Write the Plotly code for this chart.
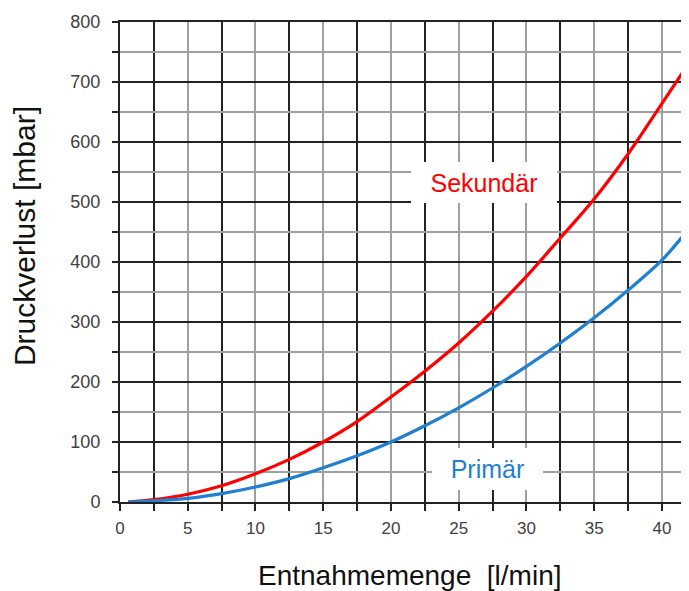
import plotly.graph_objects as go

# Data
flow = [0.6, 2.5, 5, 7.5, 10, 12.5, 15, 17.5, 20, 22.5, 25, 27.5, 30, 32.5, 35, 37.5, 40, 42]
sekundaer = [0, 4, 13, 27, 47, 71, 100, 134, 175, 218, 265, 318, 376, 440, 505, 580, 664, 732]
primaer = [0, 2, 6, 14, 25, 39, 57, 77, 100, 127, 157, 190, 226, 265, 307, 353, 403, 456]

x_ticks = [0, 5, 10, 15, 20, 25, 30, 35, 40]
y_ticks = [0, 100, 200, 300, 400, 500, 600, 700, 800]

RED = "#ff0000"
BLUE = "#1f7fd0"
DARK = "#222222"
GRAY = "#a0a0a0"

fig = go.Figure()
fig.add_trace(go.Scatter(x=flow, y=sekundaer, mode="lines", line=dict(color=RED, width=3.2, shape="spline"),
                         name="Sekundär", showlegend=False, cliponaxis=True))
fig.add_trace(go.Scatter(x=flow, y=primaer, mode="lines", line=dict(color=BLUE, width=3.2, shape="spline"),
                         name="Primär", showlegend=False, cliponaxis=True))

fig.update_layout(
    width=689, height=591,
    margin=dict(l=112, r=8, t=14, b=97),
    paper_bgcolor="white", plot_bgcolor="white",
    font=dict(family="Liberation Sans, Arial, sans-serif", color="#404040"),
    xaxis=dict(
        range=[0, 42], tickvals=x_ticks, ticktext=[str(v) for v in x_ticks],
        showgrid=True, gridcolor=GRAY, gridwidth=2,
        ticks="outside", ticklen=7, tickwidth=2, tickcolor=DARK,
        tickfont=dict(size=17, color="#404040"), ticklabelstandoff=3,
        zeroline=False, showline=True, linecolor=DARK, linewidth=2, mirror=True,
        minor=dict(tick0=2.5, dtick=5, showgrid=True, gridcolor=DARK, gridwidth=2,
                   ticks="outside", ticklen=7, tickwidth=2, tickcolor=DARK),
        automargin=False,
    ),
    yaxis=dict(
        range=[0, 800], tickvals=y_ticks, ticktext=[str(v) for v in y_ticks],
        showgrid=True, gridcolor=DARK, gridwidth=2,
        ticks="outside", ticklen=6, tickwidth=2, tickcolor=DARK,
        tickfont=dict(size=18, color="#404040"), ticklabelstandoff=8,
        zeroline=False, showline=True, linecolor=DARK, linewidth=2,
        minor=dict(tick0=50, dtick=100, showgrid=True, gridcolor=GRAY, gridwidth=2,
                   ticks="outside", ticklen=6, tickwidth=2, tickcolor=DARK),
        automargin=False,
    ),
    annotations=[
        dict(x=0, y=0.554, xref="paper", yref="paper", xshift=-96, text="Druckverlust [mbar]",
             textangle=-90, showarrow=False, font=dict(size=30, color="#111111"),
             xanchor="center", yanchor="middle"),
        dict(x=0, y=0, xref="paper", yref="paper", xshift=290, yshift=-73,
             text="Entnahmemenge\u00a0\u00a0[l/min]", showarrow=False,
             font=dict(size=28, color="#111111"), xanchor="center", yanchor="middle"),
        dict(x=26.9, y=532, xref="x", yref="y", text="Sekundär", showarrow=False,
             font=dict(size=25, color=RED), bgcolor="white", width=146, height=41,
             borderpad=0, borderwidth=0),
        dict(x=27.1, y=55, xref="x", yref="y", text="Primär", showarrow=False,
             font=dict(size=25, color=BLUE), bgcolor="white", width=111, height=42,
             borderpad=0, borderwidth=0),
    ],
)

fig.write_html("out.html")
